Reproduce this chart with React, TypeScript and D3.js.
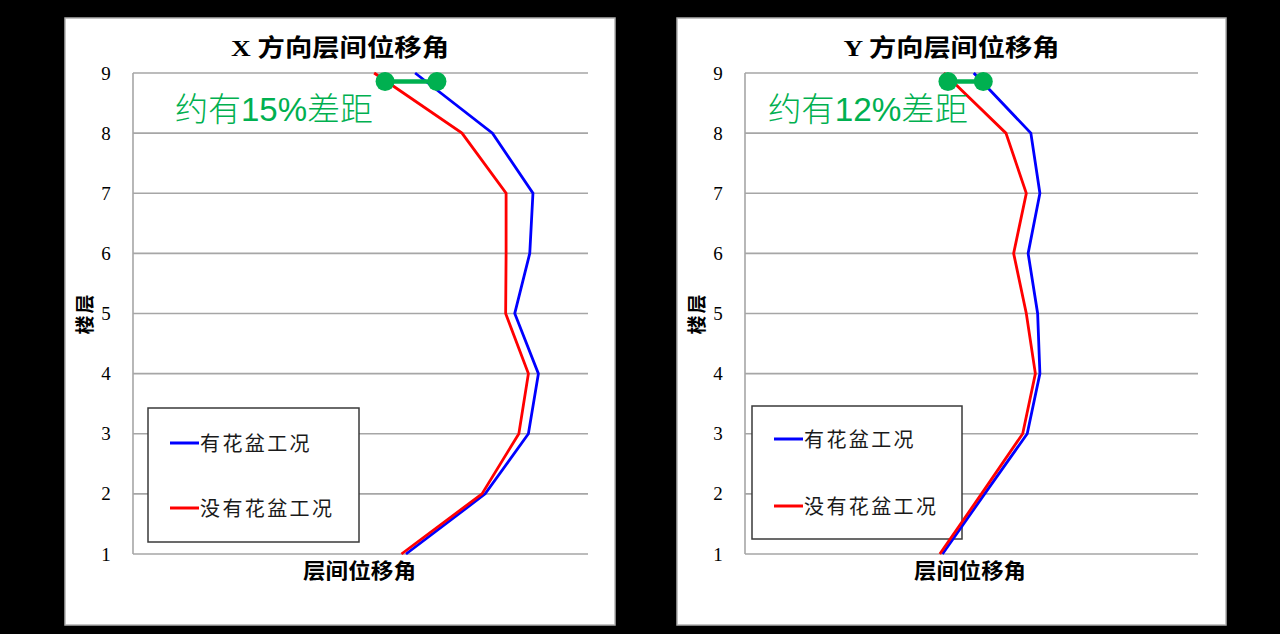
import React, { useEffect } from "react";
import * as d3 from "d3";

// ---- data ----
const floors = [1, 2, 3, 4, 5, 6, 7, 8, 9];
const floorTicks = ["1", "2", "3", "4", "5", "6", "7", "8", "9"];
const seriesNames = ["有花盆工况", "没有花盆工况"];
const panelTitles = ["X 方向层间位移角", "Y 方向层间位移角"];
const xAxisTitle = "层间位移角";
const yAxisTitle = "楼层";
const gapNotes = ["约有15%差距", "约有12%差距"];

// X direction (relative drift, arbitrary units)
const xWithPot = [60.0, 77.4, 86.9, 89.1, 83.9, 87.2, 87.9, 79.0, 62.0];
const xWithoutPot = [59.0, 76.7, 84.8, 86.9, 81.9, 82.0, 82.0, 72.3, 53.0];
// Y direction
const yWithPot = [43.6, 52.9, 62.3, 65.1, 64.6, 62.5, 65.1, 63.1, 50.5];
const yWithoutPot = [43.0, 52.2, 61.3, 64.1, 62.1, 59.3, 62.1, 57.6, 43.9];

// gap markers: [x from, x to, floor]
const xGapMarker = [55.4, 66.8, 8.86];
const yGapMarker = [44.8, 52.6, 8.86];

const seriesColors = ["#0000FF", "#FF0000"];
const noteColor = "#00B050";

type PanelCfg = {
  panel: [number, number, number, number];
  plot: [number, number, number, number];
  legend: [number, number, number, number];
  legendRows: [number, number];
  title: string;
  titleBox: [number, number];
  axisBox: [number, number];
  note: string;
  noteBox: [number, number];
  series: number[][];
  gap: number[];
};

const panels: PanelCfg[] = [
  {
    panel: [65, 18, 615, 625],
    plot: [133, 73, 588, 554],
    legend: [148, 408, 359, 542],
    legendRows: [35, 100],
    title: panelTitles[0],
    titleBox: [230, 448],
    axisBox: [303, 416],
    note: gapNotes[0],
    noteBox: [175, 373],
    series: [xWithPot, xWithoutPot],
    gap: xGapMarker,
  },
  {
    panel: [677, 18, 1226, 625],
    plot: [745, 73, 1198, 554],
    legend: [752, 406, 962, 539],
    legendRows: [33, 100],
    title: panelTitles[1],
    titleBox: [842, 1058],
    axisBox: [914, 1026],
    note: gapNotes[1],
    noteBox: [768, 968],
    series: [yWithPot, yWithoutPot],
    gap: yGapMarker,
  },
];

const cjkSans = "'Liberation Sans', 'Noto Sans CJK SC', sans-serif";
const cjkSerif = "'Liberation Serif', 'Noto Sans CJK SC', serif";

function Panel({ cfg }: { cfg: PanelCfg }) {
  const [px0, py0, px1, py1] = cfg.panel;
  const [l, t, r, b] = cfg.plot;
  const x = d3.scaleLinear().domain([0, 100]).range([l, r]);
  const y = d3.scaleLinear().domain([1, 9]).range([b, t]);
  const line = d3
    .line<[number, number]>()
    .x((d) => x(d[0]))
    .y((d) => y(d[1]));
  const [lx0, ly0, lx1, ly1] = cfg.legend;
  return (
    <g>
      <rect x={px0} y={py0} width={px1 - px0} height={py1 - py0} fill="#FFFFFF" stroke="#B0B0B0" strokeWidth={1.5} />
      {floors.map((f) => (
        <line key={"g" + f} x1={l} x2={r} y1={y(f)} y2={y(f)} stroke="#A6A6A6" strokeWidth={1.6} />
      ))}
      <line x1={l} x2={l} y1={t} y2={b} stroke="#A6A6A6" strokeWidth={1.6} />
      {floors.map((f, i) => (
        <text
          key={"t" + f}
          x={l - 27}
          y={y(f)}
          textAnchor="middle"
          dominantBaseline="central"
          fontFamily="'Liberation Serif', 'Times New Roman', serif"
          fontSize={19}
          fill="#000"
        >
          {floorTicks[i]}
        </text>
      ))}
      <text
        x={(px0 + px1) / 2}
        y={56}
        textAnchor="middle"
        fontFamily={cjkSerif}
        fontWeight="bold"
        fontSize={24}
        textLength={cfg.titleBox[1] - cfg.titleBox[0]}
        lengthAdjust="spacingAndGlyphs"
        fill="#000"
      >
        {cfg.title}
      </text>
      <text
        x={(cfg.axisBox[0] + cfg.axisBox[1]) / 2}
        y={578}
        textAnchor="middle"
        fontFamily={cjkSans}
        fontWeight="bold"
        fontSize={21}
        textLength={cfg.axisBox[1] - cfg.axisBox[0]}
        lengthAdjust="spacingAndGlyphs"
        fill="#000"
      >
        {xAxisTitle}
      </text>
      <text
        transform={`translate(${px0 + 20},${(t + b) / 2}) rotate(-90)`}
        textAnchor="middle"
        dominantBaseline="central"
        fontFamily={cjkSans}
        fontWeight="bold"
        fontSize={19}
        letterSpacing={2}
        fill="#000"
      >
        {yAxisTitle}
      </text>
      {/* legend */}
      <rect x={lx0} y={ly0} width={lx1 - lx0} height={ly1 - ly0} fill="#FFFFFF" stroke="#3A3A3A" strokeWidth={1.5} />
      {seriesNames.map((name, i) => {
        const yy = ly0 + cfg.legendRows[i];
        return (
          <g key={name}>
            <line x1={lx0 + 22} x2={lx0 + 51} y1={yy} y2={yy} stroke={seriesColors[i]} strokeWidth={3} />
            <text
              x={lx0 + 52}
              y={yy + 1}
              dominantBaseline="central"
              fontFamily={cjkSans}
              fontSize={20}
              letterSpacing={2.4}
              fill="#1A1A1A"
            >
              {name}
            </text>
          </g>
        );
      })}
      {/* series */}
      {cfg.series.map((vals, i) => (
        <path
          key={"s" + i}
          d={line(vals.map((v, k) => [v, floors[k]] as [number, number])) || ""}
          fill="none"
          stroke={seriesColors[i]}
          strokeWidth={2.8}
          strokeLinejoin="miter"
        />
      ))}
      {/* gap marker */}
      <line
        x1={x(cfg.gap[0])}
        x2={x(cfg.gap[1])}
        y1={y(cfg.gap[2])}
        y2={y(cfg.gap[2])}
        stroke={noteColor}
        strokeWidth={4.5}
      />
      <circle cx={x(cfg.gap[0])} cy={y(cfg.gap[2])} r={9.5} fill={noteColor} />
      <circle cx={x(cfg.gap[1])} cy={y(cfg.gap[2])} r={9.5} fill={noteColor} />
      <text
        x={cfg.noteBox[0]}
        y={121}
        fontFamily={cjkSans}
        fontSize={33}
        fontWeight={300}
        textLength={cfg.noteBox[1] - cfg.noteBox[0]}
        lengthAdjust="spacingAndGlyphs"
        fill={noteColor}
      >
        {cfg.note}
      </text>
    </g>
  );
}

export default function App() {
  useEffect(() => {
    document.body.style.margin = "0";
    document.body.style.background = "#000";
  }, []);
  return (
    <svg
      width={1280}
      height={634}
      viewBox="0 0 1280 634"
      style={{ position: "absolute", left: 0, top: 0, display: "block", background: "#000" }}
    >
      <rect x={0} y={0} width={1280} height={634} fill="#000" />
      {panels.map((p, i) => (
        <Panel key={i} cfg={p} />
      ))}
    </svg>
  );
}
